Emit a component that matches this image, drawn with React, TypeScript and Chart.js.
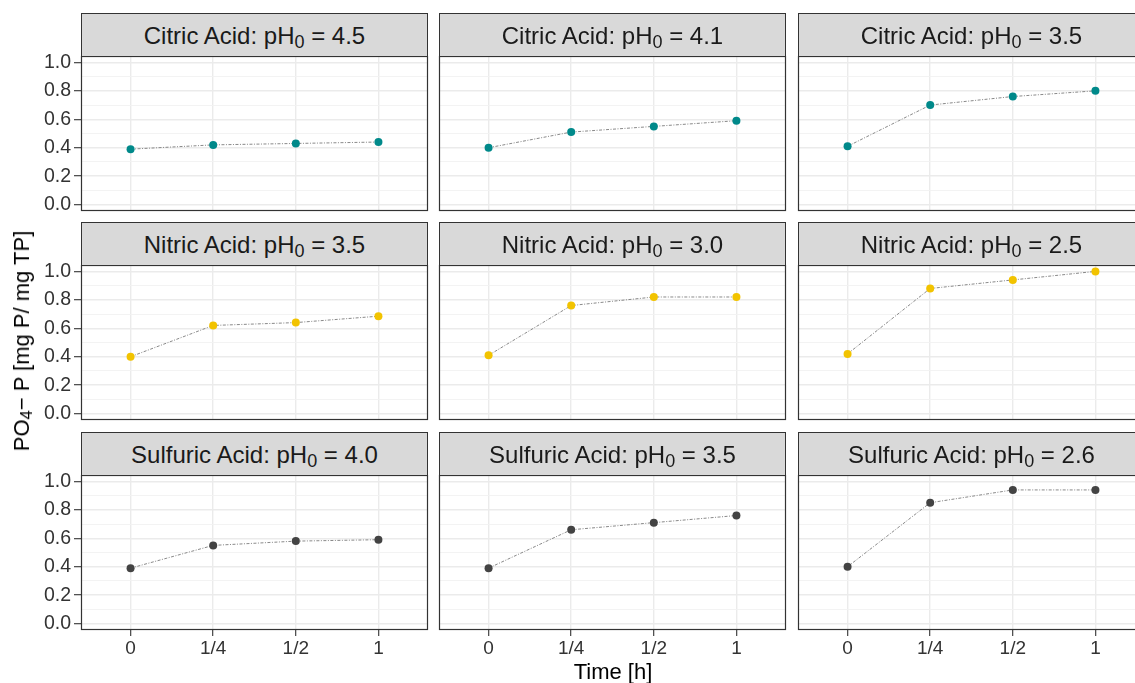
import React, { useEffect, useRef } from "react";
import { Chart, registerables } from "chart.js";

Chart.register(...registerables);

// ---- data ----
const timeLabels = ["0", "1/4", "1/2", "1"];
const acids = ["Citric Acid", "Nitric Acid", "Sulfuric Acid"];
const citricPH = ["4.5", "4.1", "3.5"];
const nitricPH = ["3.5", "3.0", "2.5"];
const sulfuricPH = ["4.0", "3.5", "2.6"];

const citric45 = [0.39, 0.42, 0.43, 0.44];
const citric41 = [0.4, 0.51, 0.55, 0.59];
const citric35 = [0.41, 0.7, 0.76, 0.8];
const nitric35 = [0.4, 0.62, 0.64, 0.685];
const nitric30 = [0.41, 0.76, 0.82, 0.82];
const nitric25 = [0.42, 0.88, 0.94, 1.0];
const sulfuric40 = [0.39, 0.55, 0.58, 0.59];
const sulfuric35 = [0.39, 0.66, 0.71, 0.76];
const sulfuric26 = [0.4, 0.85, 0.94, 0.94];

const yMajor = [0, 0.2, 0.4, 0.6, 0.8, 1.0];
const yMinor = [0.1, 0.3, 0.5, 0.7, 0.9];

const rowSeries = [
  [citric45, citric41, citric35],
  [nitric35, nitric30, nitric25],
  [sulfuric40, sulfuric35, sulfuric26],
];
const rowPH = [citricPH, nitricPH, sulfuricPH];
const rowColors = ["#00898A", "#F2C300", "#434343"];

// ---- layout ----
const PANEL_LEFT = [81, 439, 798];
const PANEL_TOP = [56, 265, 475];
const STRIP_TOP = [13, 222, 432];
const PW = 347;
const PH = 155;
const M = 16;
const YAXW = 81;
const XAXH = 48;
const FONT = "'Liberation Sans', Arial, Helvetica, sans-serif";

const isMajor = (v: number) => yMajor.some((m) => Math.abs(m - v) < 1e-6);

const borderPlugin = {
  id: "panelBorder",
  afterDraw(chart: any) {
    const { ctx, chartArea: a } = chart;
    ctx.save();
    ctx.strokeStyle = "#333333";
    ctx.lineWidth = 1.2;
    ctx.strokeRect(
      Math.round(a.left) + 0.5,
      Math.round(a.top) + 0.5,
      Math.round(a.right) - Math.round(a.left) - 1,
      Math.round(a.bottom) - Math.round(a.top) - 1
    );
    ctx.restore();
  },
};

function Panel({ row, col }: { row: number; col: number }) {
  const ref = useRef<HTMLCanvasElement | null>(null);
  const showY = col === 0;
  const showX = row === 2;
  const left = showY ? 0 : PANEL_LEFT[col] - M;
  const top = PANEL_TOP[row] - M;
  const width = PANEL_LEFT[col] + PW + M - left;
  const height = M + PH + (showX ? XAXH : M);
  const values = rowSeries[row][col];
  const color = rowColors[row];

  useEffect(() => {
    if (!ref.current) return;
    const chart = new Chart(ref.current, {
      type: "line",
      data: {
        datasets: [
          {
            data: values.map((v, i) => ({ x: i, y: v })),
            borderColor: "#7c7c7c",
            borderWidth: 0.9,
            borderDash: [3, 1.5, 1, 1.5],
            pointRadius: 4,
            pointBackgroundColor: color,
            pointBorderColor: color,
            pointBorderWidth: 0,
            fill: false,
            tension: 0,
          },
        ],
      },
      options: {
        responsive: false,
        animation: false,
        events: [],
        layout: {
          padding: { left: showY ? 0 : M, right: M, top: M, bottom: showX ? 0 : M },
        },
        plugins: { legend: { display: false }, tooltip: { enabled: false } },
        scales: {
          x: {
            type: "linear",
            min: -0.6,
            max: 3.6,
            afterBuildTicks: (s: any) => {
              s.ticks = timeLabels.map((_, i) => ({ value: i }));
            },
            afterFit: (s: any) => {
              s.height = showX ? XAXH : 0;
            },
            grid: {
              color: "#EBEBEB",
              lineWidth: 1.4,
              drawTicks: showX,
              tickLength: 6,
              tickColor: "#333333",
              tickWidth: 1.1,
            },
            border: { display: false },
            ticks: {
              display: showX,
              autoSkip: false,
              maxRotation: 0,
              padding: 1,
              color: "#333333",
              font: { family: FONT, size: 19 },
              callback: (v: any) => timeLabels[Math.round(Number(v))] ?? "",
            },
          },
          y: {
            type: "linear",
            min: -0.045,
            max: 1.045,
            afterBuildTicks: (s: any) => {
              s.ticks = [...yMajor, ...yMinor]
                .sort((a, b) => a - b)
                .map((v) => ({ value: v }));
            },
            afterFit: (s: any) => {
              s.width = showY ? YAXW : 0;
            },
            grid: {
              color: (c: any) => (c.tick && isMajor(c.tick.value) ? "#EBEBEB" : "#F2F2F2"),
              lineWidth: (c: any) => (c.tick && isMajor(c.tick.value) ? 1.4 : 0.9),
              drawTicks: showY,
              tickLength: 7,
              tickColor: (c: any) =>
                c.tick && isMajor(c.tick.value) ? "#333333" : "rgba(0,0,0,0)",
              tickWidth: 1.1,
            },
            border: { display: false },
            ticks: {
              display: showY,
              autoSkip: false,
              padding: 3,
              color: "#333333",
              font: { family: FONT, size: 19.5 },
              callback: (v: any) => (isMajor(Number(v)) ? Number(v).toFixed(1) : ""),
            },
          },
        },
      } as any,
      plugins: [borderPlugin],
    });
    return () => chart.destroy();
  }, []);

  return (
    <canvas
      ref={ref}
      width={width}
      height={height}
      style={{ position: "absolute", left, top, width, height }}
    />
  );
}

function Strip({ row, col }: { row: number; col: number }) {
  return (
    <div
      style={{
        position: "absolute",
        left: PANEL_LEFT[col],
        top: STRIP_TOP[row],
        width: PW,
        height: PANEL_TOP[row] - STRIP_TOP[row] + 1,
        boxSizing: "border-box",
        background: "#D9D9D9",
        border: "1.2px solid #333333",
        display: "flex",
        alignItems: "center",
        justifyContent: "center",
        fontSize: 24,
        color: "#1A1A1A",
        whiteSpace: "nowrap",
      }}
    >
      <span style={{ lineHeight: "27px" }}>
        {acids[row]}: pH
        <sub style={{ fontSize: "0.75em", verticalAlign: "-0.22em", lineHeight: 0 }}>0</sub> ={" "}
        {rowPH[row][col]}
      </span>
    </div>
  );
}

export default function App() {
  const cells: { row: number; col: number }[] = [];
  for (let r = 0; r < 3; r++) for (let c = 0; c < 3; c++) cells.push({ row: r, col: c });
  return (
    <div
      style={{
        position: "absolute",
        left: 0,
        top: 0,
        width: 1135,
        height: 683,
        overflow: "hidden",
        background: "#FFFFFF",
        fontFamily: FONT,
      }}
    >
      {cells.map((p) => (
        <Panel key={`p${p.row}${p.col}`} row={p.row} col={p.col} />
      ))}
      {cells.map((p) => (
        <Strip key={`s${p.row}${p.col}`} row={p.row} col={p.col} />
      ))}
      <div
        style={{
          position: "absolute",
          left: 513,
          width: 200,
          top: 661,
          lineHeight: "22px",
          fontSize: 22,
          textAlign: "center",
          color: "#000",
        }}
      >
        Time [h]
      </div>
      <div
        style={{
          position: "absolute",
          left: 22,
          top: 341,
          transform: "translate(-50%, -50%) rotate(-90deg)",
          fontSize: 22,
          lineHeight: "24px",
          whiteSpace: "nowrap",
          color: "#000",
        }}
      >
        PO<sub style={{ fontSize: "0.75em", verticalAlign: "-0.2em", lineHeight: 0 }}>4</sub>− P
        [mg P/ mg TP]
      </div>
    </div>
  );
}
